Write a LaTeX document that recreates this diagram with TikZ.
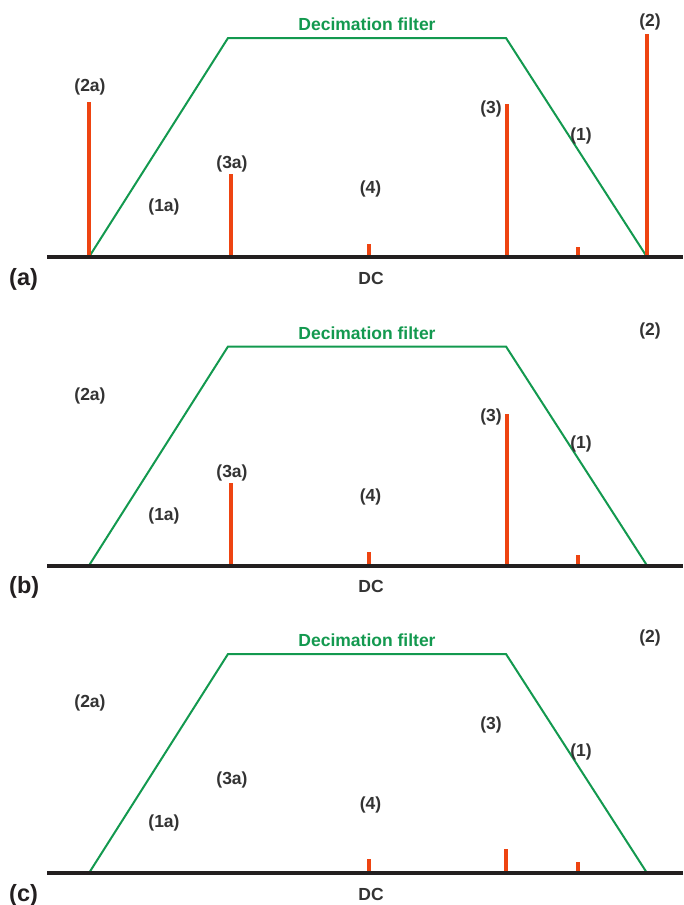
\documentclass[tikz,border=0pt]{standalone}
\usepackage{fontspec}
\setmainfont{Liberation Sans}
\definecolor{filtgreen}{HTML}{13994F}
\definecolor{spikered}{HTML}{EE4411}
\definecolor{axisblack}{HTML}{231F20}
\definecolor{labelgray}{HTML}{333333}
\tikzset{
  lbl/.style={font=\bfseries\fontsize{17.5}{20}\selectfont, text=labelgray, inner sep=0pt},
  plbl/.style={font=\bfseries\fontsize{23.5}{26}\selectfont, text=axisblack, inner sep=0pt, anchor=west},
  ftitle/.style={font=\bfseries\fontsize{17.5}{20}\selectfont, text=filtgreen, inner sep=0pt},
  filt/.style={draw=filtgreen, line width=2pt, line join=miter},
  spike/.style={draw=spikered, line width=4pt},
  axisline/.style={draw=axisblack, line width=4pt},
}
\newcommand\paneldraw[3]{%
  \coordinate (fl#1) at (89,257);
  \coordinate (tl#1) at (228,38);
  \coordinate (tr#1) at (506,38);
  \coordinate (fr#1) at (647,257);
  \draw[filt] (fl#1) -- (tl#1) -- (tr#1) -- (fr#1);
  \node[ftitle] (title#1) at (367,24.5) {Decimation filter};
  #3
  \coordinate (axa#1) at (47,257);
  \coordinate (axb#1) at (683,257);
  \draw[axisline] (axa#1) -- (axb#1);
  \node[lbl] (l2a#1) at (90,87) {(2a)};
  \node[lbl] (l1a#1) at (164,207) {(1a)};
  \node[lbl] (l3a#1) at (232,164) {(3a)};
  \node[lbl] (l4#1) at (370.5,188.5) {(4)};
  \node[lbl] (l3#1) at (491,108.5) {(3)};
  \node[lbl] (l1#1) at (581,135.5) {(1)};
  \node[lbl] (l2#1) at (650,22) {(2)};
  \node[lbl] (dc#1) at (371,278) {DC};
  \node[plbl] (p#1) at (9,279) {(#2)};
}
\newcommand\spikeat[3]{%
  \coordinate (sb#1) at (#2,257);
  \coordinate (st#1) at (#2,#3);
  \draw[spike] (sb#1) -- (st#1);
}
\begin{document}
\begin{tikzpicture}[x=1pt,y=-1pt]
\useasboundingbox (0,0) rectangle (683,905);
\begin{scope}
  \paneldraw{A}{a}{%
    \spikeat{A1}{89}{102}
    \spikeat{A2}{231}{174}
    \spikeat{A3}{369}{244}
    \spikeat{A4}{507}{104}
    \spikeat{A5}{578}{247}
    \spikeat{A6}{647}{34}
  }
\end{scope}
\begin{scope}[shift={(0,308.5)}]
  \paneldraw{B}{b}{%
    \spikeat{B2}{231}{174.5}
    \spikeat{B3}{369}{243.5}
    \spikeat{B4}{507}{105.5}
    \spikeat{B5}{578}{246.5}
  }
\end{scope}
\begin{scope}[shift={(0,616)}]
  \paneldraw{C}{c}{%
    \spikeat{C3}{369}{243}
    \spikeat{C4}{506}{233}
    \spikeat{C5}{578}{246}
  }
\end{scope}
\end{tikzpicture}
\end{document}
